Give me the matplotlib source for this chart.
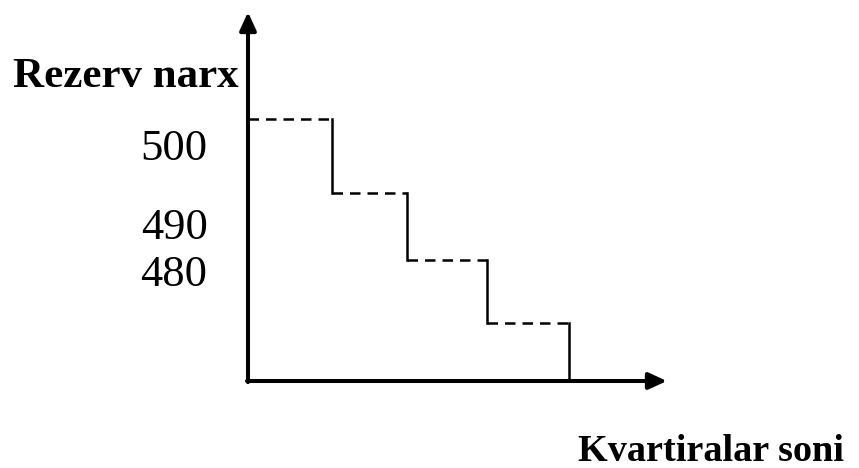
import matplotlib.pyplot as plt

# step demand curve: reserve price per apartment, step edges along x
step_edges = [0, 1.0, 1.89, 2.85, 3.82]
step_prices = [500, 490, 481, 472.4]
price_labels = ["500", "490", "480"]
label_pos = [495.9, 485.3, 478.9]
y_title = "Rezerv narx"
x_title = "Kvartiralar soni"

plt.rcParams['font.family'] = ['Liberation Serif', 'DejaVu Serif']

fig = plt.figure(figsize=(8.59, 4.68), dpi=100)
ax = fig.add_axes([0, 0, 1, 1])
# map data so that origin sits at pixel (248, 381)
ax.set_xlim(-248 / 84, (859 - 248) / 84)
ax.set_ylim(500 - (468 - 119) / 7.4, 500 + 119 / 7.4)
ax.axis('off')

y0 = 500 - (381 - 119) / 7.4
x_end = (667 - 248) / 84
y_end = 500 + (119 - 12) / 7.4

# axes with arrows
arrow = dict(arrowstyle='-|>,head_length=1.1,head_width=0.5', lw=2.9, color='black',
             shrinkA=0, shrinkB=0)
ax.annotate('', xy=(0, y_end), xytext=(0, y0 - 0.15), arrowprops=arrow)
ax.annotate('', xy=(x_end, y0), xytext=(-0.012, y0), arrowprops=arrow)

# dashed horizontal steps and solid vertical drops
for i, p in enumerate(step_prices):
    ax.plot([step_edges[i], step_edges[i + 1]], [p, p], color='black', lw=1.8,
            linestyle=(0, (4.2, 2.8)))
    nxt = step_prices[i + 1] if i + 1 < len(step_prices) else y0
    ax.plot([step_edges[i + 1], step_edges[i + 1]], [p, nxt], color='black', lw=1.8)

for lab, yp in zip(price_labels, label_pos):
    ax.text(-0.88, yp, lab, ha='center', va='center', fontsize=32)

ax.text(-1.46, 500 + (119 - 77) / 7.4, y_title, ha='center', va='center',
        fontsize=31, fontweight='bold')
ax.text((578 - 248) / 84, 500 - (461 - 119) / 7.4, x_title, ha='left', va='baseline',
        fontsize=27.5, fontweight='bold')

fig.savefig('out.png', dpi=100)
